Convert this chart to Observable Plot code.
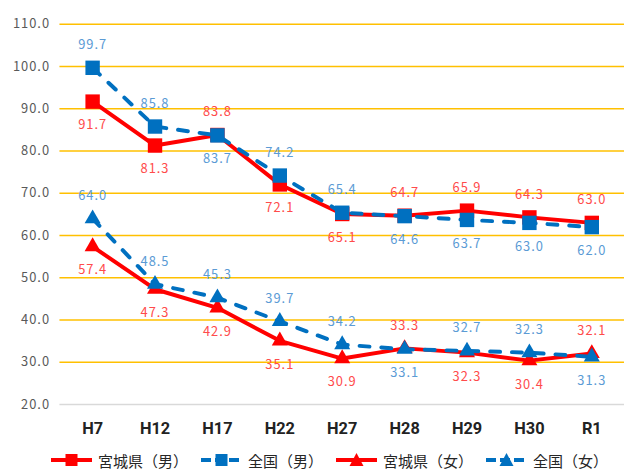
<!DOCTYPE html>
<html><head><meta charset="utf-8">
<script src="https://cdn.jsdelivr.net/npm/d3@7"></script>
<script src="https://cdn.jsdelivr.net/npm/@observablehq/plot@0.6"></script>
<style>
body{margin:0;background:#fff;}
#wrap{position:relative;width:624px;height:469px;overflow:hidden;}
#chart{position:absolute;top:0;left:0;}
#legend{position:absolute;top:449px;left:0;width:624px;height:22px;font-family:"Noto Sans CJK JP";font-size:15px;color:#262626;}
.item{position:absolute;top:0;height:22px;display:flex;align-items:center;white-space:nowrap;}
.item svg{margin-right:5px;}
#chart g[aria-label="text"] text, #chart g[aria-label="y-axis tick label"] text{letter-spacing:1px;}
</style></head>
<body><div id="wrap"><div id="chart"></div><div id="legend"></div></div>
<script>
const years = ["H7","H12","H17","H22","H27","H28","H29","H30","R1"];
const miyagiMale    = [91.7, 81.3, 83.8, 72.1, 65.1, 64.7, 65.9, 64.3, 63.0];
const nationalMale  = [99.7, 85.8, 83.7, 74.2, 65.4, 64.6, 63.7, 63.0, 62.0];
const miyagiFemale  = [57.4, 47.3, 42.9, 35.1, 30.9, 33.3, 32.3, 30.4, 32.1];
const nationalFemale= [64.0, 48.5, 45.3, 39.7, 34.2, 33.1, 32.7, 32.3, 31.3];
const seriesNames = ["宮城県（男）","全国（男）","宮城県（女）","全国（女）"];
const yTicks = [20,30,40,50,60,70,80,90,100,110];

const RED = "#FF0000", BLUE = "#0070C0";
const series = [
  {name: seriesNames[0], values: miyagiMale, partner: nationalMale, color: RED, label: "#FF4B4B", symbol: "square", dash: null},
  {name: seriesNames[1], values: nationalMale, partner: miyagiMale, color: BLUE, label: "#5B9BD5", symbol: "square", dash: "10,12"},
  {name: seriesNames[2], values: miyagiFemale, partner: nationalFemale, color: RED, label: "#FF4B4B", symbol: "triangle", dash: null},
  {name: seriesNames[3], values: nationalFemale, partner: miyagiFemale, color: BLUE, label: "#5B9BD5", symbol: "triangle", dash: "10,12"}
];

const font = "'Noto Sans CJK JP', sans-serif";
const marks = [
  Plot.ruleY(yTicks.filter(t => t > 20), {stroke: "#FFC000", strokeWidth: 1.5}),
  Plot.ruleY([20], {stroke: "#D9D9D9", strokeWidth: 1.5})
];
for (const s of series) {
  const rows = years.map((yr, j) => ({year: yr, value: s.values[j]}));
  marks.push(Plot.line(rows, {x: "year", y: "value", stroke: s.color, strokeWidth: 4, strokeDasharray: s.dash, strokeLinecap: s.dash ? "round" : "butt", strokeLinejoin: "round"}));
  marks.push(Plot.dot(rows, {x: "year", y: "value", symbol: s.symbol, fill: s.color, stroke: "none", r: s.symbol === "square" ? 8.2 : 6}));
}
for (const s of series) {
  const rows = years.map((yr, j) => ({year: yr, value: s.values[j], above: s.values[j] > s.partner[j]}));
  marks.push(Plot.text(rows.filter(d => d.above), {x: "year", y: "value", text: d => d.value.toFixed(1), dy: -23, fill: s.label, fontSize: 13, fontFamily: font}));
  marks.push(Plot.text(rows.filter(d => !d.above), {x: "year", y: "value", text: d => d.value.toFixed(1), dy: 24, fill: s.label, fontSize: 13, fontFamily: font}));
}
marks.push(Plot.axisY(yTicks, {tickSize: 0, tickPadding: 10, tickFormat: d => d.toFixed(1), fontSize: 13, fontFamily: font, fill: "#595959"}));
marks.push(Plot.axisX({tickSize: 0, tickPadding: 18, fontSize: 16.5, fontWeight: "bold", fontFamily: "'Liberation Sans Narrow', 'Roboto', sans-serif", fill: "#222"}));

const chart = Plot.plot({
  width: 630, height: 448,
  marginLeft: 60, marginRight: 0, marginTop: 24, marginBottom: 40,
  x: {type: "point", domain: years, padding: 0.5, label: null},
  y: {domain: [20, 110], label: null},
  style: {background: "transparent", overflow: "visible"},
  marks
});
document.getElementById("chart").appendChild(chart);

// legend
const legendX = [50, 200, 335, 485];
const legend = document.getElementById("legend");
series.forEach((s, i) => {
  const div = document.createElement("div");
  div.className = "item";
  div.style.left = legendX[i] + "px";
  const ns = "http://www.w3.org/2000/svg";
  const svg = document.createElementNS(ns, "svg");
  svg.setAttribute("width", 43); svg.setAttribute("height", 16);
  const line = document.createElementNS(ns, "line");
  line.setAttribute("x1", 1); line.setAttribute("x2", 42); line.setAttribute("y1", 8); line.setAttribute("y2", 8);
  line.setAttribute("stroke", s.color); line.setAttribute("stroke-width", 4);
  if (s.dash) line.setAttribute("stroke-dasharray", "10,4");
  svg.appendChild(line);
  if (s.symbol === "square") {
    const r = document.createElementNS(ns, "rect");
    r.setAttribute("x", 15.5); r.setAttribute("y", 2); r.setAttribute("width", 12); r.setAttribute("height", 12); r.setAttribute("fill", s.color);
    svg.appendChild(r);
  } else {
    const p = document.createElementNS(ns, "path");
    p.setAttribute("d", "M21.5,1 L28.5,14 L14.5,14 Z"); p.setAttribute("fill", s.color);
    svg.appendChild(p);
  }
  div.appendChild(svg);
  const t = document.createElement("span");
  t.textContent = s.name;
  div.appendChild(t);
  legend.appendChild(div);
});
</script>
</body></html>
